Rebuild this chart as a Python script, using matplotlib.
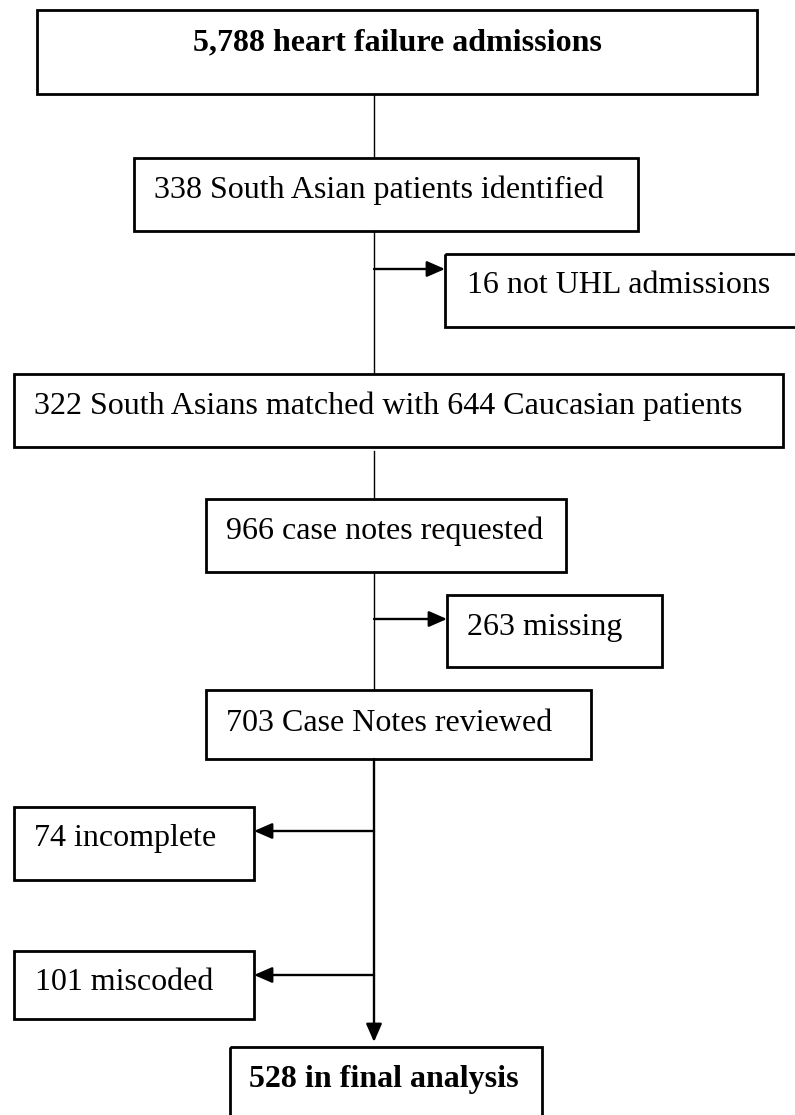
import matplotlib
matplotlib.use("Agg")
import matplotlib.pyplot as plt
from matplotlib.patches import Rectangle

# Flowchart content (counts)
main_labels = [
    "5,788 heart failure admissions",
    "338 South Asian patients identified",
    "322 South Asians matched with 644 Caucasian patients",
    "966 case notes requested",
    "703 Case Notes reviewed",
    "528 in final analysis",
]
main_bold = [True, False, False, False, False, True]
side_labels = ["16 not UHL admissions", "263 missing", "74 incomplete", "101 miscoded"]

# layout in pixel coordinates (x0, y0, x1, y1), image y grows downwards
main_boxes = [
    (37, 10, 757, 94),
    (134, 158, 638, 231),
    (14, 374, 783, 447),
    (206, 499, 566, 572),
    (206, 690, 591, 759),
    (230, 1047, 542, 1130),
]
# text anchor (x, baseline y, alignment)
main_text = [(397, 50, "center"), (154, 198, "left"), (34, 414, "left"),
             (226, 539, "left"), (226, 731, "left"), (384, 1087, "center")]
side_boxes = [
    (445, 254, 800, 327),
    (447, 595, 662, 667),
    (14, 807, 254, 880),
    (14, 951, 254, 1019),
]
side_text = [(467, 293), (467, 635), (34, 846), (35, 990)]
side_arrow_y = [269, 619, 831, 975]
trunk_x = 374

plt.rcParams['font.family'] = ['Liberation Serif', 'DejaVu Serif']

fig = plt.figure(figsize=(7.95, 11.15), dpi=100)
ax = fig.add_axes([0, 0, 1, 1])
ax.set_xlim(0, 795)
ax.set_ylim(1115, 0)
ax.axis('off')

def box(b, lw=2.0):
    x0, y0, x1, y1 = b
    ax.add_patch(Rectangle((x0, y0), x1 - x0, y1 - y0, fill=False,
                           edgecolor='black', linewidth=lw))

for b, (tx, ty, ha), lab, bold in zip(main_boxes, main_text, main_labels, main_bold):
    box(b)
    ax.text(tx, ty, lab, ha=ha, va='baseline', fontsize=23,
            fontweight='bold' if bold else 'normal')

for b, (tx, ty), lab in zip(side_boxes, side_text, side_labels):
    box(b)
    ax.text(tx, ty, lab, ha='left', va='baseline', fontsize=23)

# trunk segments between main boxes
segs = [(94, 158), (231, 374), (451, 499), (572, 690)]
for y0, y1 in segs:
    ax.plot([trunk_x, trunk_x], [y0, y1], color='black', linewidth=1.0)

arrow_kw = dict(arrowstyle='-|>,head_length=0.55,head_width=0.24',
                mutation_scale=20, color='black', linewidth=1.7,
                shrinkA=0, shrinkB=0)
# last trunk with arrow into final box
ax.annotate('', xy=(trunk_x, 1042), xytext=(trunk_x, 759), arrowprops=arrow_kw)

for y, b in zip(side_arrow_y, side_boxes):
    end_x = b[0] if b[0] > trunk_x else b[2]
    ax.annotate('', xy=(end_x, y), xytext=(trunk_x, y), arrowprops=arrow_kw)

fig.savefig('out.png', dpi=100)
